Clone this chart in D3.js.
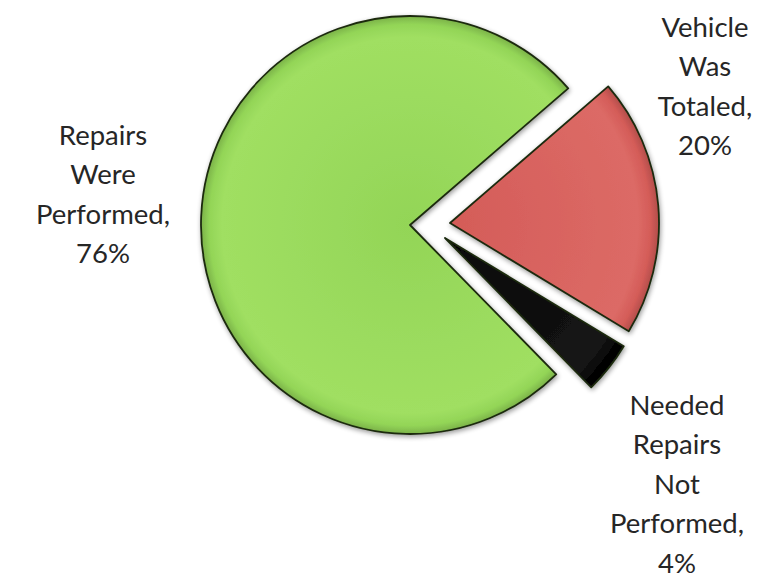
<!DOCTYPE html>
<html><head><meta charset="utf-8">
<script src="https://cdn.jsdelivr.net/npm/d3@7"></script>
<style>body{margin:0;background:#fff}svg{display:block}</style>
</head><body>
<script>
const categories = ["Repairs Were Performed", "Vehicle Was Totaled", "Needed Repairs Not Performed"];
const values = [76, 20, 4];
const labelLines = [
  ["Repairs", "Were", "Performed,", "76%"],
  ["Vehicle", "Was", "Totaled,", "20%"],
  ["Needed", "Repairs", "Not", "Performed,", "4%"]
];
const colors = ["#93d557", "#d45c58", "#050505"];
const colorsLight = ["#a0df62", "#dc6a66", "#151515"];

const W = 770, H = 586;
const cx = 410, cy = 225, R = 209;
const explode = [[0, 0], [40, -2], [35, 13]];
const labelPos = [[103, 135], [705, 27], [677, 405]];
const lineH = 39.5;

const svg = d3.select("body").append("svg").attr("width", W).attr("height", H);
const defs = svg.append("defs");
const f = defs.append("filter").attr("id", "sh").attr("x", "-20%").attr("y", "-20%").attr("width", "140%").attr("height", "140%");
f.append("feGaussianBlur").attr("in", "SourceAlpha").attr("stdDeviation", 2.5).attr("result", "b");
f.append("feOffset").attr("in", "b").attr("dx", 1).attr("dy", 2).attr("result", "o");
f.append("feComponentTransfer").attr("in", "o").attr("result", "o2").append("feFuncA").attr("type", "linear").attr("slope", 0.4);
const m = f.append("feMerge");
m.append("feMergeNode").attr("in", "o2");
m.append("feMergeNode").attr("in", "SourceGraphic");

colors.forEach((c, i) => {
  const g = defs.append("radialGradient").attr("id", "g" + i)
    .attr("gradientUnits", "userSpaceOnUse").attr("cx", 0).attr("cy", 0).attr("r", R);
  g.append("stop").attr("offset", "0%").attr("stop-color", c);
  g.append("stop").attr("offset", "90%").attr("stop-color", colorsLight[i]);
  g.append("stop").attr("offset", "96%").attr("stop-color", c);
  g.append("stop").attr("offset", "100%").attr("stop-color", d3.color(c).darker(0.5));
});

const start = 135.6 * Math.PI / 180;
const pie = d3.pie().sort(null).startAngle(start).endAngle(start + 2 * Math.PI);
const arcs = pie(values);
const arc = d3.arc().innerRadius(0).outerRadius(R);

svg.append("g").attr("transform", `translate(${cx},${cy})`)
  .selectAll("path").data(arcs).join("path")
  .attr("transform", (d, i) => `translate(${explode[i][0]},${explode[i][1]})`)
  .attr("d", arc)
  .attr("fill", (d, i) => `url(#g${i})`)
  .attr("stroke", "#1c2a10")
  .attr("stroke-width", 1.8)
  .attr("stroke-linejoin", "round")
  .attr("filter", "url(#sh)");

labelLines.forEach((lines, i) => {
  const t = svg.append("text")
    .attr("x", labelPos[i][0]).attr("y", labelPos[i][1])
    .attr("text-anchor", "middle")
    .attr("font-family", "Lato, 'Open Sans', sans-serif")
    .attr("font-size", 27.5)
    .attr("fill", "#262626");
  lines.forEach((l, j) => {
    t.append("tspan").attr("x", labelPos[i][0]).attr("y", labelPos[i][1] + j * lineH)
      .attr("dy", "0.35em").text(l);
  });
});
</script>
</body></html>
